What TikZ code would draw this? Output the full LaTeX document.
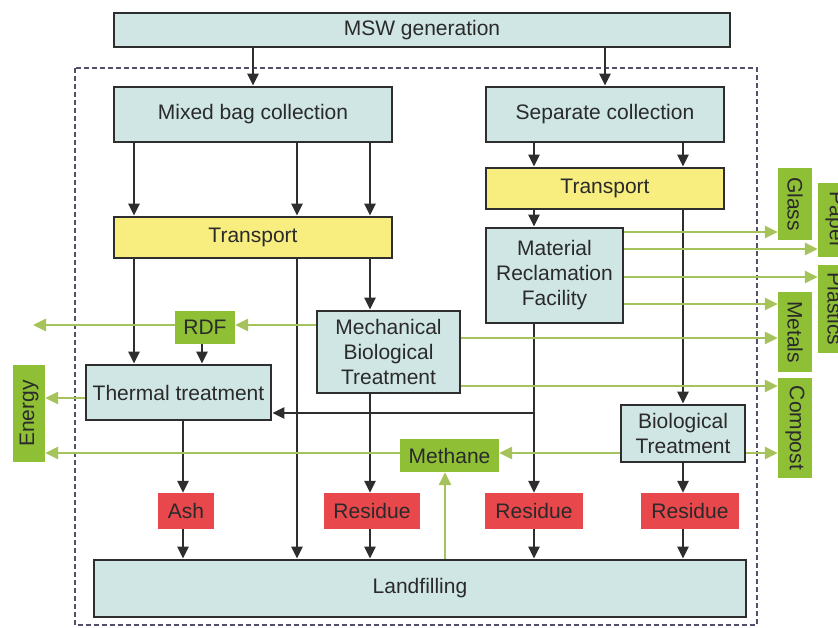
\documentclass[tikz,border=0pt]{standalone}
\usepackage{fontspec}
\setmainfont{Liberation Sans}
\usetikzlibrary{arrows.meta}
\definecolor{boxfill}{HTML}{CFE6E4}
\definecolor{yelfill}{HTML}{F7EE7F}
\definecolor{grnfill}{HTML}{8EBF35}
\definecolor{redfill}{HTML}{E8474C}
\definecolor{grnline}{HTML}{A5C35A}
\definecolor{linec}{HTML}{2E2E2E}
\definecolor{textc}{HTML}{2A2A2A}
\definecolor{dashc}{HTML}{50506A}
\begin{document}
\begin{tikzpicture}[x=1pt,y=-1pt,
  lbl/.style={inner sep=0pt, align=center, text=textc, font=\fontsize{21}{25}\selectfont},
  box/.style={lbl, draw=linec, line width=2.8pt, fill=boxfill},
  ybox/.style={box, fill=yelfill},
  gbox/.style={lbl, fill=grnfill},
  rbox/.style={lbl, fill=redfill},
  arr/.style={draw=linec, line width=2.4pt, -{Triangle[length=12pt,width=11pt]}},
  garr/.style={draw=grnline, line width=2.6pt, -{Triangle[length=13pt,width=12pt,fill=grnline]}}]
\useasboundingbox (0,0) rectangle (838,628);
\clip (0,0) rectangle (838,628);
\fill[white] (0,0) rectangle (838,628);
\draw[dashc, line width=1.4pt, dash pattern=on 5pt off 3pt] (75,68) rectangle (757,625);

% column and row helpers
\coordinate (cA) at (134,0);
\coordinate (cB) at (297,0);
\coordinate (cC) at (370,0);
\coordinate (cD) at (534,0);
\coordinate (cE) at (683,0);
\coordinate (cF) at (202,0);
\coordinate (cH) at (183,0);
\coordinate (cM) at (445,0);
\coordinate (r232) at (0,232);
\coordinate (r249) at (0,249);
\coordinate (r277) at (0,277);
\coordinate (r304) at (0,304);
\coordinate (r325) at (0,325);
\coordinate (r338) at (0,338);
\coordinate (r386) at (0,386);
\coordinate (r398) at (0,398);
\coordinate (r413) at (0,413);
\coordinate (r453) at (0,453);
\coordinate (rdfend) at (33,325);

% nodes
\node[box, minimum width=616pt, minimum height=34pt] (msw) at (422,30) {MSW generation};
\node[box, minimum width=278pt, minimum height=55pt] (mixed) at (253,114.5) {Mixed bag collection};
\node[box, minimum width=238pt, minimum height=55pt] (sep) at (605,114.5) {Separate collection};
\node[ybox, minimum width=278pt, minimum height=41pt] (tl) at (253,237.5) {Transport};
\node[ybox, minimum width=238pt, minimum height=41pt] (tr) at (605,188.5) {Transport};
\node[box, minimum width=137pt, minimum height=95pt] (mrf) at (554.5,275.5) {Material\\Reclamation\\Facility};
\node[box, minimum width=143pt, minimum height=82pt] (mbt) at (388.5,352) {Mechanical\\Biological\\Treatment};
\node[gbox, minimum width=60pt, minimum height=33pt] (rdf) at (205,327.5) {RDF};
\node[box, minimum width=185pt, minimum height=55pt] (thermal) at (178.5,392.5) {Thermal treatment};
\node[gbox, minimum width=32pt, minimum height=97pt] (energy) at (29,413.5) {\rotatebox{90}{Energy}};
\node[gbox, minimum width=99pt, minimum height=33pt] (methane) at (449.5,455.5) {Methane};
\node[box, minimum width=124pt, minimum height=57pt] (bt) at (683,433.5) {Biological\\Treatment};
\node[rbox, minimum width=56pt, minimum height=36pt] (ash) at (186,511) {Ash};
\node[rbox, minimum width=96pt, minimum height=36pt] (res1) at (372,511) {Residue};
\node[rbox, minimum width=98pt, minimum height=36pt] (res2) at (534,511) {Residue};
\node[rbox, minimum width=98pt, minimum height=36pt] (res3) at (690,511) {Residue};
\node[box, minimum width=652pt, minimum height=57pt] (land) at (420,588.5) {Landfilling};
\node[gbox, minimum width=34pt, minimum height=72pt] (glass) at (795,204) {\rotatebox{-90}{Glass}};
\node[gbox, minimum width=34pt, minimum height=74pt] (paper) at (835,220) {\rotatebox{-90}{Paper}};
\node[gbox, minimum width=34pt, minimum height=88pt] (plastics) at (835,309) {\rotatebox{-90}{Plastics}};
\node[gbox, minimum width=34pt, minimum height=80pt] (metals) at (795,332) {\rotatebox{-90}{Metals}};
\node[gbox, minimum width=34pt, minimum height=100pt] (compost) at (795,428) {\rotatebox{-90}{Compost}};

% black flows
\draw[arr] (msw.south -| mixed.north) -- (mixed.north);
\draw[arr] (msw.south -| sep.north) -- (sep.north);
\draw[arr] (mixed.south -| cA) -- (tl.north -| cA);
\draw[arr] (mixed.south -| cB) -- (tl.north -| cB);
\draw[arr] (mixed.south -| cC) -- (tl.north -| cC);
\draw[arr] (sep.south -| cD) -- (tr.north -| cD);
\draw[arr] (sep.south -| cE) -- (tr.north -| cE);
\draw[arr] (tr.south -| cD) -- (mrf.north -| cD);
\draw[arr] (tr.south -| cE) -- (bt.north -| cE);
\draw[arr] (tl.south -| cA) -- (thermal.north -| cA);
\draw[arr] (tl.south -| cB) -- (land.north -| cB);
\draw[arr] (tl.south -| cC) -- (mbt.north -| cC);
\draw[arr] (rdf.south -| cF) -- (thermal.north -| cF);
\draw[arr] (mrf.south -| cD) -- (res2.north -| cD);
\draw[arr] (r413 -| cD) -- (r413 -| thermal.east);
\draw[arr] (thermal.south -| cH) -- (ash.north -| cH);
\draw[arr] (ash.south -| cH) -- (land.north -| cH);
\draw[arr] (mbt.south -| cC) -- (res1.north -| cC);
\draw[arr] (res1.south -| cC) -- (land.north -| cC);
\draw[arr] (res2.south -| cD) -- (land.north -| cD);
\draw[arr] (bt.south -| cE) -- (res3.north -| cE);
\draw[arr] (res3.south -| cE) -- (land.north -| cE);

% green flows
\draw[garr] (r325 -| mbt.west) -- (r325 -| rdf.east);
\draw[garr] (r325 -| rdf.west) -- (rdfend);
\draw[garr] (r398 -| thermal.west) -- (r398 -| energy.east);
\draw[garr] (r453 -| methane.west) -- (r453 -| energy.east);
\draw[garr] (r453 -| bt.west) -- (r453 -| methane.east);
\draw[garr] (r453 -| bt.east) -- (r453 -| compost.west);
\draw[garr] (land.north -| cM) -- (methane.south -| cM);
\draw[garr] (r232 -| mrf.east) -- (r232 -| glass.west);
\draw[garr] (r249 -| mrf.east) -- (r249 -| paper.west);
\draw[garr] (r277 -| mrf.east) -- (r277 -| plastics.west);
\draw[garr] (r304 -| mrf.east) -- (r304 -| metals.west);
\draw[garr] (r338 -| mbt.east) -- (r338 -| metals.west);
\draw[garr] (r386 -| mbt.east) -- (r386 -| compost.west);
\end{tikzpicture}
\end{document}
